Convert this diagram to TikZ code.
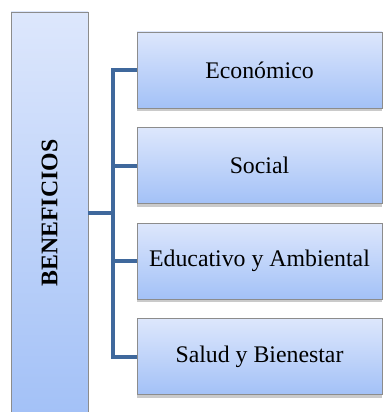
\documentclass[tikz,border=0pt]{standalone}
\usepackage{fontspec}
\setmainfont{Liberation Serif}
\usetikzlibrary{shadows}
\definecolor{topc}{HTML}{DDE7FC}
\definecolor{botc}{HTML}{A3C1F7}
\definecolor{edgec}{HTML}{8C8C8C}
\definecolor{linec}{HTML}{3F689C}
\tikzset{
  box/.style={draw=edgec, line width=0.9pt, top color=topc, bottom color=botc,
    minimum width=245pt, minimum height=76pt, inner sep=0pt,
    font=\fontsize{23.8pt}{26pt}\selectfont,
    drop shadow={shadow xshift=0pt, shadow yshift=-3pt, opacity=0.35, fill=black!60}},
  mainbox/.style={draw=edgec, line width=0.9pt, top color=topc, bottom color=botc,
    minimum width=77pt, minimum height=402pt, inner sep=0pt,
    drop shadow={shadow xshift=0pt, shadow yshift=-3pt, opacity=0.35, fill=black!60}},
  conn/.style={draw=linec, line width=4pt, line join=miter, line cap=rect}
}
\begin{document}
\begin{tikzpicture}[x=1pt,y=-1pt]
\useasboundingbox (0,0) rectangle (384,412);
\begin{scope}
\clip (0,0) rectangle (384,412);
\node[mainbox] (L) at (49.5,213) {};
\node[rotate=90, font=\fontsize{23.8pt}{26pt}\selectfont\bfseries] (Lt) at (49.5,213) {BENEFICIOS};
\node[box] (b1) at (259.5,70) {Económico};
\node[box] (b2) at (259.5,165.5) {Social};
\node[box] (b3) at (259.5,261) {Educativo y Ambiental};
\node[box] (b4) at (259.5,356.5) {Salud y Bienestar};
\coordinate (t1) at (113,70);
\coordinate (t2) at (113,165.5);
\coordinate (tm) at (113,213);
\coordinate (t3) at (113,261);
\coordinate (t4) at (113,356.5);
\draw[conn, line cap=butt] (b1.west) -- (t1) -- (t4) -- (b4.west);
\draw[conn, line cap=butt] (b2.west) -- (t2);
\draw[conn, line cap=butt] (b3.west) -- (t3);
\draw[conn, line cap=butt] (L.east) -- (tm);
\end{scope}
\end{tikzpicture}
\end{document}
